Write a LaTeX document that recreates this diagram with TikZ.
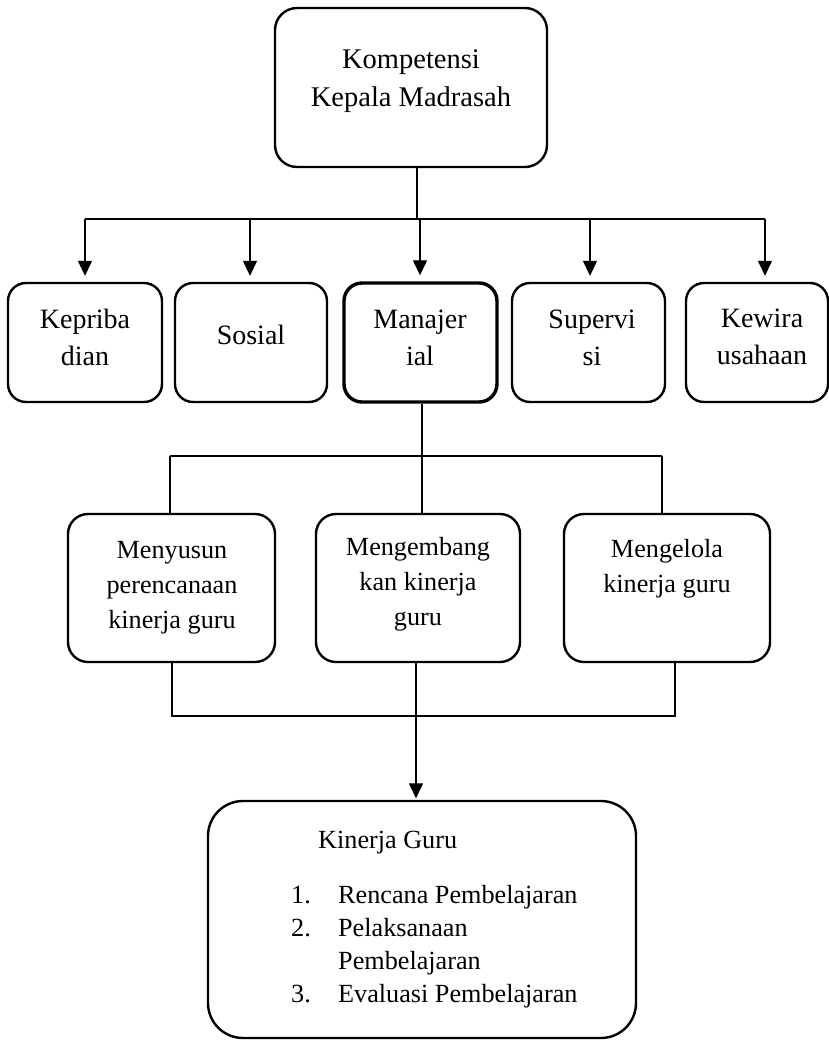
\documentclass[tikz,border=0pt]{standalone}
\usepackage{fontspec}
\setmainfont{Liberation Serif}
\usetikzlibrary{arrows.meta}
\newcommand{\mlines}[1]{\begin{tabular}[t]{@{}c@{}}#1\end{tabular}}
\begin{document}
\begin{tikzpicture}[x=1pt,y=-1pt,
  box/.style={draw, line width=2.4pt, rounded corners=#1, inner sep=0pt},
  box/.default=20pt,
  conn/.style={draw, line width=1.3pt},
  arr/.style={conn, -{Triangle[width=14pt,length=15pt]}},
  ftop/.style={font=\fontsize{28.5}{38}\selectfont, inner sep=0pt},
  frow/.style={font=\fontsize{28}{37}\selectfont, inner sep=0pt},
  fmid/.style={font=\fontsize{26.2}{35}\selectfont, inner sep=0pt},
  fbot/.style={font=\fontsize{26.2}{33.3}\selectfont, inner sep=0pt}]
\useasboundingbox (0,0) rectangle (829,1041);

% top box
\node[box=22pt, minimum width=272pt, minimum height=159pt] (top) at (411,87.5) {};
\node[ftop, anchor=base] (toptxt) at (411,68) {\mlines{Kompetensi\\Kepala Madrasah}};

% second row boxes
\node[box=18pt, minimum width=154pt, minimum height=119pt] (b1) at (85,342.5) {};
\node[box=18pt, minimum width=152pt, minimum height=119pt] (b2) at (251,342.5) {};
\node[box=18pt, line width=3.4pt, minimum width=153pt, minimum height=119pt] (b3) at (420.5,342.5) {};
\node[box=18pt, minimum width=153pt, minimum height=119pt] (b4) at (588.5,342.5) {};
\node[box=18pt, minimum width=142pt, minimum height=119pt] (b5) at (757,342.5) {};

\node[frow, anchor=base] (t1) at (85,328) {\mlines{Kepriba\\dian}};
\node[frow, anchor=base] (t2) at (251,344) {Sosial};
\node[frow, anchor=base] (t3) at (420,328) {\mlines{Manajer\\ial}};
\node[frow, anchor=base] (t4) at (592,328) {\mlines{Supervi\\si}};
\node[frow, anchor=base] (t5) at (762,327) {\mlines{Kewira\\usahaan}};

% middle boxes
\node[box=20pt, minimum width=207pt, minimum height=148pt] (m1) at (171.5,588) {};
\node[box=20pt, minimum width=204pt, minimum height=148pt] (m2) at (418,588) {};
\node[box=20pt, minimum width=206pt, minimum height=148pt] (m3) at (667,588) {};

\node[fmid, anchor=base] (u1) at (172,558) {\mlines{Menyusun\\perencanaan\\kinerja guru}};
\node[fmid, anchor=base] (u2) at (418,555) {\mlines{Mengembang\\kan kinerja\\guru}};
\node[fmid, anchor=base] (u3) at (667,557) {\mlines{Mengelola\\kinerja guru}};

% bottom box
\node[box=35pt, minimum width=428pt, minimum height=237pt] (kg) at (422,919.5) {};
\node[fbot, anchor=base west] (kgt) at (318,848) {Kinerja Guru};
\node[fbot, anchor=base west] (kgl) at (291,903) {\begin{tabular}[t]{@{}p{47pt}@{}l@{}}1.&Rencana Pembelajaran\\2.&Pelaksanaan\\&Pembelajaran\\3.&Evaluasi Pembelajaran\end{tabular}};

% connectors top -> row 2
\coordinate (j0) at (417,219);
\coordinate (s1) at (85,219);
\coordinate (s2) at (250,219);
\coordinate (s3) at (420,219);
\coordinate (s4) at (590,219);
\coordinate (s5) at (765,219);
\draw[conn] (top.south -| j0) -- (j0);
\draw[conn] (s1) -- (s5);
\draw[arr, shorten >=6pt] (s1) -- (s1 |- b1.north);
\draw[arr, shorten >=6pt] (s2) -- (s2 |- b2.north);
\draw[arr, shorten >=6pt] (s3) -- (s3 |- b3.north);
\draw[arr, shorten >=6pt] (s4) -- (s4 |- b4.north);
\draw[arr, shorten >=6pt] (s5) -- (s5 |- b5.north);

% connectors row 2 -> middle
\coordinate (k0) at (422,456);
\coordinate (k1) at (170,456);
\coordinate (k3) at (662,456);
\draw[conn] (b3.south -| k0) -- (k0);
\draw[conn] (k1) -- (k3);
\draw[conn] (k1) -- (k1 |- m1.north);
\draw[conn] (k0) -- (k0 |- m2.north);
\draw[conn] (k3) -- (k3 |- m3.north);

% connectors middle -> bottom
\coordinate (l1) at (172,716);
\coordinate (l2) at (416,716);
\coordinate (l3) at (675,716);
\draw[conn] (m1.south -| l1) -- (l1) -- (l3) -- (m3.south -| l3);
\draw[arr, shorten >=1.5pt] (m2.south -| l2) -- (l2 |- kg.north);
\end{tikzpicture}
\end{document}
